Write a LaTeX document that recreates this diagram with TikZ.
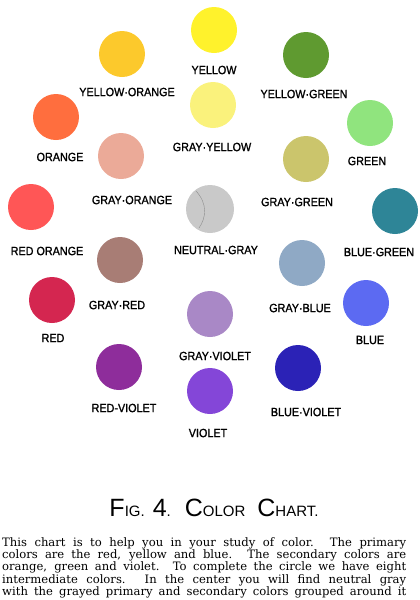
\documentclass[tikz,border=0pt]{standalone}
\usepackage{fontspec}
\newfontfamily\handfont[FakeStretch=0.9, FakeBold=1.3]{Liberation Sans}
\newfontfamily\titlefont{Liberation Sans}
\newfontfamily\bodyfont{DejaVu Serif}

\definecolor{cYel}{HTML}{FFF22C}
\definecolor{cYelOr}{HTML}{FCC92C}
\definecolor{cYelGr}{HTML}{5F9A30}
\definecolor{cGrayYel}{HTML}{FAF27C}
\definecolor{cOr}{HTML}{FF6E3E}
\definecolor{cGr}{HTML}{90E47E}
\definecolor{cGrayOr}{HTML}{EBAA98}
\definecolor{cGrayGr}{HTML}{CBC56C}
\definecolor{cRedOr}{HTML}{FF5656}
\definecolor{cNeutral}{HTML}{C9C9C9}
\definecolor{cBlueGr}{HTML}{2E8597}
\definecolor{cGrayRed}{HTML}{A87D75}
\definecolor{cGrayBlue}{HTML}{8FA9C5}
\definecolor{cRed}{HTML}{D42650}
\definecolor{cBlue}{HTML}{5C6AF2}
\definecolor{cGrayVio}{HTML}{A988C6}
\definecolor{cRedVio}{HTML}{8E2D9B}
\definecolor{cBlueVio}{HTML}{2B22B6}
\definecolor{cVio}{HTML}{8446D8}

\tikzset{
  swatch/.style={circle, minimum size=46pt, inner sep=0pt},
  tag/.style={font=\handfont\fontsize{12}{13}\selectfont, inner sep=0pt},
  bigcap/.style={font=\titlefont\fontsize{15}{17}\selectfont, inner sep=0pt}
}
\newcommand{\bigc}[1]{{\fontsize{25}{25}\selectfont #1}}

\begin{document}
\begin{tikzpicture}[x=1pt,y=-1pt]
    \useasboundingbox (0,0) rectangle (420,600);

    % Columna central
    \node[swatch, fill=cYel] (yellow) at (214,30) {};
    \node[tag] (yellowtag) at (214,70) {YELLOW};
    \node[swatch, fill=cGrayYel] (grayyellow) at (213,105) {};
    \node[tag] (grayyellowtag) at (212,147) {GRAY·YELLOW};
    \node[swatch, fill=cNeutral, minimum size=48pt] (neutral) at (210,209) {};
    \draw[black!45, thin] (196,191) .. controls (208,204) and (206,218) .. (199,228);
    \node[tag] (neutraltag) at (216,250) {NEUTRAL·GRAY};
    \node[swatch, fill=cGrayVio] (grayviolet) at (210,314) {};
    \node[tag] (grayviolettag) at (215,356) {GRAY·VIOLET};
    \node[swatch, fill=cVio] (violet) at (210,391) {};
    \node[tag] (violettag) at (208,433) {VIOLET};

    % Lado izquierdo
    \node[swatch, fill=cYelOr] (yelloworange) at (122,54) {};
    \node[tag] (yelloworangetag) at (127,92) {YELLOW·ORANGE};
    \node[swatch, fill=cOr] (orange) at (56,117) {};
    \node[tag] (orangetag) at (60,157) {ORANGE};
    \node[swatch, fill=cGrayOr] (grayorange) at (121,156) {};
    \node[tag] (grayorangetag) at (132,200) {GRAY·ORANGE};
    \node[swatch, fill=cRedOr] (redorange) at (31,207) {};
    \node[tag] (redorangetag) at (47,251) {RED ORANGE};
    \node[swatch, fill=cGrayRed] (grayred) at (120,260) {};
    \node[tag] (grayredtag) at (117,305) {GRAY·RED};
    \node[swatch, fill=cRed] (red) at (52,300) {};
    \node[tag] (redtag) at (53,338) {RED};
    \node[swatch, fill=cRedVio] (redviolet) at (119,367) {};
    \node[tag] (reddviolettag) at (124,408) {RED-VIOLET};

    % Lado derecho
    \node[swatch, fill=cYelGr] (yellowgreen) at (306,55) {};
    \node[tag] (yellowgreentag) at (304,94) {YELLOW·GREEN};
    \node[swatch, fill=cGr] (green) at (370,123) {};
    \node[tag] (greentag) at (367,161) {GREEN};
    \node[swatch, fill=cGrayGr] (graygreen) at (306,159) {};
    \node[tag] (graygreentag) at (297,202) {GRAY·GREEN};
    \node[swatch, fill=cBlueGr] (bluegreen) at (395,211) {};
    \node[tag] (bluegreentag) at (379,252) {BLUE·GREEN};
    \node[swatch, fill=cGrayBlue] (grayblue) at (302,263) {};
    \node[tag] (graybluetag) at (300,308) {GRAY·BLUE};
    \node[swatch, fill=cBlue] (blue) at (366,303) {};
    \node[tag] (bluetag) at (370,340) {BLUE};
    \node[swatch, fill=cBlueVio] (blueviolet) at (298,368) {};
    \node[tag] (bluevioletttag) at (306,412) {BLUE·VIOLET};

    % Titulo y texto
    \node[bigcap, anchor=base] (title) at (214,516)
        {\bigc{F}IG.\hspace{8pt}\bigc{4}.\hspace{14pt}\bigc{C}OLOR\hspace{12pt}\bigc{C}HART.};
    \node[anchor=north west, text width=404pt, inner sep=0pt, align=justify,
          font=\bodyfont\fontsize{11.6}{11.3}\selectfont] (blurb) at (2,537)
        {This chart is to help you in your study of color.  The primary\linebreak
         colors are the red, yellow and blue.  The secondary colors are\linebreak
         orange, green and violet.  To complete the circle we have eight\linebreak
         intermediate colors.  In the center you will find neutral gray\linebreak
         with the grayed primary and secondary colors grouped around it\parfillskip=0pt\par};
\end{tikzpicture}
\end{document}
